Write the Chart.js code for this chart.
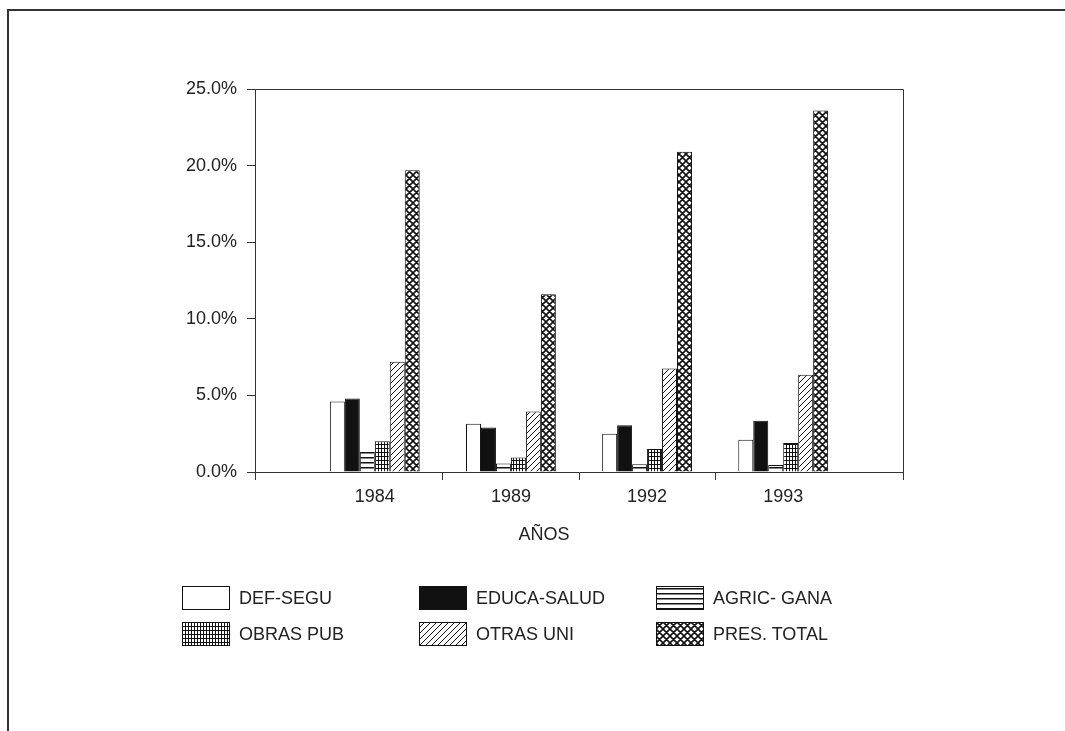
<!DOCTYPE html>
<html>
<head>
<meta charset="utf-8">
<script src="https://cdn.jsdelivr.net/npm/chart.js@4/dist/chart.umd.min.js"></script>
<style>
  html, body { margin: 0; padding: 0; background: #fff; }
  body { width: 1065px; height: 731px; position: relative; overflow: hidden;
         font-family: "Liberation Sans", Arial, sans-serif; color: #222; }
  #frame { position: absolute; left: 7px; top: 9px; width: 1100px; height: 800px;
           border-top: 2px solid #333; border-left: 2px solid #333; }
  #wrap { position: absolute; left: 0; top: 0; width: 1065px; height: 731px; }
  #xtitle { position: absolute; left: 544px; top: 525px; transform: translateX(-50%);
            font-size: 18px; line-height: 1; }
  #legend { position: absolute; left: 182px; top: 586px;
            display: grid; grid-template-columns: 237px 237px 237px; grid-auto-rows: 36px; }
  .item { display: flex; align-items: center; height: 24px; font-size: 18px; }
  .item canvas { width: 48px; height: 24px; margin-right: 9px; }
  .item span { line-height: 24px; white-space: nowrap; }
</style>
</head>
<body>
<div id="frame"></div>
<div id="wrap"><canvas id="chart"></canvas></div>
<div id="xtitle">AÑOS</div>
<div id="legend"></div>
<script>
// datos (% del presupuesto)
const years = ["1984", "1989", "1992", "1993"];
const seriesNames = ["DEF-SEGU", "EDUCA-SALUD", "AGRIC- GANA", "OBRAS PUB", "OTRAS UNI", "PRES. TOTAL"];
const defSegu = [4.6, 3.15, 2.5, 2.1];
const educaSalud = [4.8, 2.9, 3.05, 3.35];
const agricGana = [1.3, 0.55, 0.5, 0.45];
const obrasPub = [2.0, 0.95, 1.5, 1.9];
const otrasUni = [7.2, 3.95, 6.75, 6.35];
const presTotal = [19.7, 11.6, 20.9, 23.6];
const yTicks = [0, 5, 10, 15, 20, 25];

const seriesValues = [defSegu, educaSalud, agricGana, obrasPub, otrasUni, presTotal];
const seriesFill = ["blank", "solid", "hlines", "grid", "diag", "cross"];

// --- tramas en blanco y negro ---
function makePattern(kind) {
  if (kind === "blank") return "#fff";
  if (kind === "solid") return "#111";
  const c = document.createElement("canvas");
  const g = c.getContext("2d");
  if (kind === "hlines") {
    c.width = 4; c.height = 5;
    g.fillStyle = "#fff"; g.fillRect(0, 0, 4, 5);
    g.fillStyle = "#111"; g.fillRect(0, 2, 4, 1.5);
  } else if (kind === "grid") {
    c.width = 3; c.height = 4;
    g.fillStyle = "#fff"; g.fillRect(0, 0, 3, 4);
    g.fillStyle = "#111"; g.fillRect(0, 0, 1, 4); g.fillRect(0, 0, 3, 1);
  } else if (kind === "diag") {
    c.width = 6; c.height = 6;
    g.fillStyle = "#fff"; g.fillRect(0, 0, 6, 6);
    g.strokeStyle = "#111"; g.lineWidth = 1;
    g.beginPath();
    g.moveTo(0, 6); g.lineTo(6, 0);
    g.moveTo(-1, 1); g.lineTo(1, -1);
    g.moveTo(5, 7); g.lineTo(7, 5);
    g.stroke();
  } else if (kind === "cross") {
    c.width = 7; c.height = 7;
    g.fillStyle = "#fff"; g.fillRect(0, 0, 7, 7);
    g.strokeStyle = "#111"; g.lineWidth = 1.6;
    g.beginPath();
    g.moveTo(0, 7); g.lineTo(7, 0);
    g.moveTo(-1, 1); g.lineTo(1, -1);
    g.moveTo(6, 8); g.lineTo(8, 6);
    g.moveTo(0, 0); g.lineTo(7, 7);
    g.moveTo(-1, 6); g.lineTo(1, 8);
    g.moveTo(6, -1); g.lineTo(8, 1);
    g.stroke();
  }
  return g.createPattern(c, "repeat");
}

const datasets = seriesNames.map((name, k) => ({
  label: name,
  data: seriesValues[k].map((v, i) => ({ x: i, y: v })),
  backgroundColor: makePattern(seriesFill[k]),
  borderColor: "#111",
  borderWidth: 1,
  categoryPercentage: 0.66,
  barPercentage: 1.0,
}));

// marco superior y derecho del área del gráfico
const framePlugin = {
  id: "frame",
  afterDraw(chart) {
    const a = chart.chartArea;
    const ctx = chart.ctx;
    ctx.save();
    ctx.strokeStyle = "#333";
    ctx.lineWidth = 1;
    ctx.beginPath();
    ctx.moveTo(a.left, a.top + 0.5);
    ctx.lineTo(a.right + 0.5, a.top + 0.5);
    ctx.lineTo(a.right + 0.5, a.bottom);
    ctx.stroke();
    ctx.restore();
  },
};

const xMin = -0.88;
const xMax = years.length - 1 + 0.88;
const tickFont = { family: "'Liberation Sans', Arial, sans-serif", size: 18 };

new Chart(document.getElementById("chart"), {
  type: "bar",
  data: { datasets: datasets },
  options: {
    responsive: true,
    maintainAspectRatio: false,
    animation: false,
    layout: { padding: { left: 155, top: 89, right: 162, bottom: 221 } },
    plugins: { legend: { display: false }, tooltip: { enabled: false } },
    scales: {
      x: {
        type: "linear",
        position: "bottom",
        offset: false,
        min: xMin,
        max: xMax,
        afterBuildTicks: (scale) => {
          const marks = [xMin];
          for (let i = 0; i < years.length - 1; i++) marks.push(i + 0.5);
          marks.push(xMax);
          scale.ticks = marks.map((v) => ({ value: v }));
        },
        afterFit: (scale) => { scale.height = 8; },
        ticks: { callback: () => "", padding: 0 },
        grid: { offset: false, drawOnChartArea: false, drawTicks: true, tickLength: 8, color: "#333" },
        border: { display: true, color: "#333", width: 1 },
      },
      xl: {
        type: "linear",
        position: "bottom",
        offset: false,
        min: xMin,
        max: xMax,
        afterBuildTicks: (scale) => {
          scale.ticks = years.map((y, i) => ({ value: i }));
        },
        afterFit: (scale) => { scale.height = 30; },
        ticks: {
          callback: (v) => years[v],
          padding: 6,
          color: "#222",
          font: tickFont,
          maxRotation: 0,
          autoSkip: false,
        },
        grid: { display: false, drawTicks: false },
        border: { display: false },
      },
      y: {
        min: 0,
        max: 25,
        afterBuildTicks: (scale) => {
          scale.ticks = yTicks.map((v) => ({ value: v }));
        },
        afterFit: (scale) => { scale.width = 100; },
        ticks: {
          callback: (v) => v.toFixed(1) + "%",
          padding: 10,
          color: "#222",
          font: tickFont,
        },
        grid: { drawOnChartArea: false, drawTicks: true, tickLength: 8, color: "#333" },
        border: { display: true, color: "#333", width: 1 },
      },
    },
  },
  plugins: [framePlugin],
});

// leyenda en tres columnas
const legend = document.getElementById("legend");
seriesNames.forEach((name, k) => {
  const item = document.createElement("div");
  item.className = "item";
  const sw = document.createElement("canvas");
  sw.width = 48; sw.height = 24;
  const g = sw.getContext("2d");
  g.fillStyle = datasets[k].backgroundColor;
  g.fillRect(0, 0, 48, 24);
  g.strokeStyle = "#111";
  g.lineWidth = 1;
  g.strokeRect(0.5, 0.5, 47, 23);
  const label = document.createElement("span");
  label.textContent = name;
  item.appendChild(sw);
  item.appendChild(label);
  legend.appendChild(item);
});
</script>
</body>
</html>
